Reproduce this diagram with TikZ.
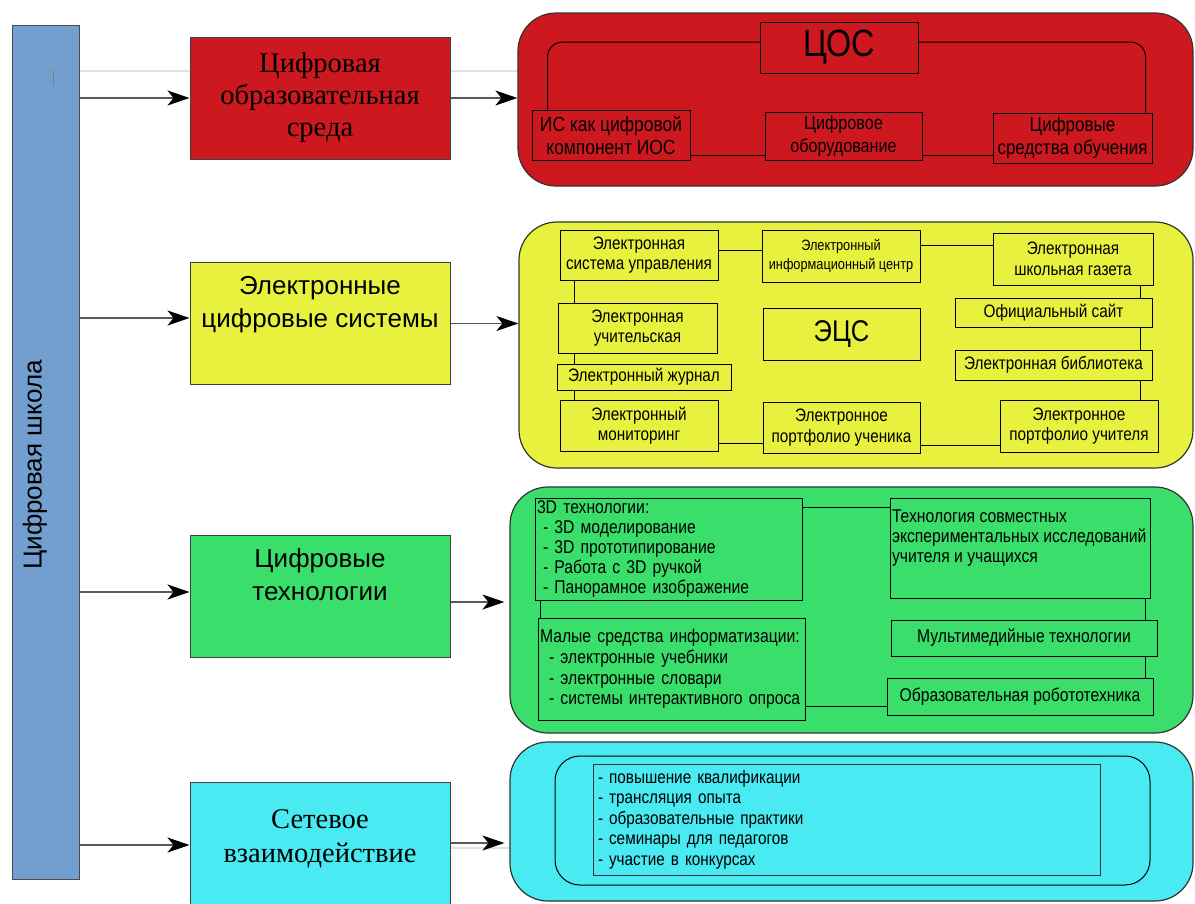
\documentclass[tikz,border=0pt]{standalone}
\usepackage{fontspec}
\setmainfont{Liberation Serif}
\setsansfont{Liberation Sans}
\newfontfamily\narrow[FakeStretch=0.85]{Liberation Sans}
\usetikzlibrary{arrows.meta}
\newcommand\myfs[2]{\fontsize{#1}{#2}\selectfont}
\definecolor{barblue}{RGB}{114,159,207}
\definecolor{cred}{RGB}{204,24,30}
\definecolor{cyel}{RGB}{232,242,62}
\definecolor{cgrn}{RGB}{58,222,106}
\definecolor{ccyn}{RGB}{74,234,242}
\definecolor{markbrown}{RGB}{150,120,90}
\begin{document}
\begin{tikzpicture}[x=1pt,y=-1pt,
  mid/.style={draw=black!75, line width=1pt, minimum width=260pt, minimum height=122pt, align=center, inner sep=0pt},
  panel/.style={draw=black!80, line width=1.2pt, rounded corners=38pt, inner sep=0pt},
  ib/.style={draw=black, line width=1pt, inner sep=0pt, align=center, font=\narrow\myfs{18}{20.5}},
  conn/.style={draw=black, line width=1pt},
  arr/.style={draw=black!65, line width=1.5pt, -{Stealth[length=22pt,width=15pt,inset=6pt,black]}},
  faint/.style={draw=black!12, line width=1.5pt}]
\useasboundingbox (0,0) rectangle (1195,903);
\fill[white] (0,0) rectangle (1195,903);

% faint lines
\draw[faint] (79,71) -- (190,71);
\draw[faint] (450,71) -- (518,71);
\draw[faint] (450,848) -- (511,848);

% left bar
\node[draw=black!70, line width=1pt, fill=barblue, minimum width=67pt, minimum height=854pt, inner sep=0pt] (bar) at (45.5,452) {};
\node[rotate=90, font=\sffamily\myfs{26}{30}] (barlab) at (35,465) {Цифровая школа};
\draw[markbrown, line width=1pt] (53,70) -- (53,86);

% middle boxes
\node[mid, fill=cred, font=\myfs{28.5}{32}] (m1) at (320,98) {Цифровая\\образовательная\\среда};
\node[mid, fill=cyel, font=\sffamily\myfs{26}{33}] (m2) at (320,323.5) {Электронные\\цифровые системы\\\strut};
\node[mid, fill=cgrn, font=\sffamily\myfs{26}{33}] (m3) at (320,596) {Цифровые\\технологии\\\strut};
\node[mid, fill=ccyn, font=\myfs{28.5}{34}] (m4) at (320,843) {Сетевое\\взаимодействие\\[-20pt]\mbox{}};

% panels
\node[panel, fill=cred, minimum width=675pt, minimum height=173pt] (rp) at (855.5,99.5) {};
\node[panel, fill=cyel, minimum width=674pt, minimum height=246pt] (yp) at (856,345) {};
\node[panel, fill=cgrn, minimum width=683pt, minimum height=246pt] (gp) at (851.5,610) {};
\node[panel, fill=ccyn, minimum width=683pt, minimum height=159pt] (cp) at (851.5,821.5) {};

% arrows
\draw[arr] (bar.east |- m1.west) -- (m1.west);
\draw[arr] (m1.east) -- (m1.east -| rp.west);
\draw[arr] ([yshift=5.5pt]m2.west -| bar.east) -- ([yshift=5.5pt]m2.west);
\draw[arr] (m2.east) -- (m2.east -| yp.west);
\draw[arr] ([yshift=4pt]m3.west -| bar.east) -- ([yshift=4pt]m3.west);
\draw[arr, shorten >=5pt] ([yshift=-6pt]m3.east) -- ([yshift=-6pt]m3.east -| gp.west);
\draw[arr] ([yshift=-2pt]m4.west -| bar.east) -- ([yshift=-2pt]m4.west);
\draw[arr, shorten >=5pt] (m4.east) -- (m4.east -| cp.west);

% red panel content
\node[ib, fill=cred, minimum width=158pt, minimum height=51pt, font=\narrow\myfs{38}{40}] (cos) at (839,47.5) {ЦОС};
\node[ib, fill=cred, minimum width=158pt, minimum height=50pt, font=\narrow\myfs{20.5}{23}] (is) at (611,135) {ИС как цифровой\\компонент ИОС};
\node[ib, fill=cred, minimum width=157pt, minimum height=48pt, font=\narrow\myfs{19}{23}] (co) at (843.5,136) {Цифровое\\оборудование};
\node[ib, fill=cred, minimum width=159pt, minimum height=50pt, font=\narrow\myfs{20}{23}] (cso) at (1072.5,138) {Цифровые\\средства обучения};
\draw[conn, rounded corners=15pt] ([yshift=5.5pt]cos.west) -| ([xshift=16pt]is.north west);
\draw[conn, rounded corners=15pt] ([yshift=5.5pt]cos.east) -| ([xshift=-7pt]cso.north east);
\draw[conn] ([yshift=-20pt]is.east) -- ([yshift=-20pt]is.east -| co.west);
\draw[conn] ([yshift=-19pt]co.east) -- ([yshift=-19pt]co.east -| cso.west);

% yellow panel content
\node[ib, fill=cyel, minimum width=158pt, minimum height=50pt] (esu) at (639,255) {Электронная\\система управления};
\node[ib, fill=cyel, minimum width=158pt, minimum height=52pt, font=\narrow\myfs{15}{19}] (eic) at (841,256) {Электронный\\информационный центр};
\node[ib, fill=cyel, minimum width=160pt, minimum height=52pt] (eshg) at (1073,259) {Электронная\\школьная газета};
\node[ib, fill=cyel, minimum width=159pt, minimum height=50pt] (eu) at (637.5,328) {Электронная\\учительская};
\node[ib, fill=cyel, minimum width=157pt, minimum height=52pt, font=\narrow\myfs{30}{32}] (ecs) at (841.5,334) {ЭЦС};
\node[ib, fill=cyel, minimum width=197pt, minimum height=29pt] (os) at (1053.5,312.5) {Официальный сайт};
\node[ib, fill=cyel, minimum width=197pt, minimum height=30pt] (eb) at (1053.5,365) {Электронная библиотека};
\node[ib, fill=cyel, minimum width=174pt, minimum height=26pt] (ezh) at (644,377) {Электронный журнал};
\node[ib, fill=cyel, minimum width=158pt, minimum height=51pt] (em) at (639,425.5) {Электронный\\мониторинг};
\node[ib, fill=cyel, minimum width=157pt, minimum height=51pt] (epuch) at (841.5,427.5) {Электронное\\портфолио ученика};
\node[ib, fill=cyel, minimum width=158pt, minimum height=52pt] (eput) at (1079,426) {Электронное\\портфолио учителя};
\draw[conn] ([yshift=5pt]esu.east) -- ([yshift=5pt]esu.east -| eic.west);
\draw[conn] ([yshift=11pt]eic.east) -- ([yshift=11pt]eic.east -| eshg.west);
\draw[conn] ([xshift=15pt]esu.south west) -- ([xshift=15pt]esu.south west |- eu.north);
\draw[conn] ([xshift=17pt]eu.south west) -- ([xshift=17pt]eu.south west |- ezh.north);
\draw[conn] ([xshift=18pt]ezh.south west) -- ([xshift=18pt]ezh.south west |- em.north);
\draw[conn] ([yshift=-17.5pt]em.east) -- ([yshift=-17.5pt]em.east -| epuch.west);
\draw[conn] ([yshift=-17.5pt]epuch.east) -- ([yshift=-17.5pt]epuch.east -| eput.west);
\draw[conn] ([xshift=-13pt]eshg.south east) -- ([xshift=-13pt]eshg.south east |- os.north);
\draw[conn] ([xshift=-12pt]os.south east) -- ([xshift=-12pt]os.south east |- eb.north);
\draw[conn] ([xshift=-12pt]eb.south east) -- ([xshift=-12pt]eb.south east |- eput.north);

% green panel content
\node[ib, fill=cgrn, minimum width=267pt, minimum height=102pt, align=left, text width=263pt, font=\narrow\myfs{18.5}{20}] (d3) at (668.5,549)
 {3D технологии:\\\hspace*{6pt}- 3D моделирование\\\hspace*{6pt}- 3D прототипирование\\\hspace*{6pt}- Работа с 3D ручкой\\\hspace*{6pt}- Панорамное изображение};
\node[ib, fill=cgrn, minimum width=260pt, minimum height=100pt, font=\narrow\myfs{18.5}{20}] (tsei) at (1020,548)
 {\begin{minipage}[c][100pt][t]{256pt}\raggedright\vspace*{12pt}Технология совместных\\экспериментальных исследований\\учителя и учащихся\end{minipage}};
\node[ib, fill=cgrn, minimum width=267pt, minimum height=102pt, align=left, text width=263pt, font=\narrow\myfs{18.5}{20.7}] (msi) at (671.5,669)
 {Малые средства информатизации:\\\hspace*{9pt}- электронные учебники\\\hspace*{9pt}- электронные словари\\\hspace*{9pt}- системы интерактивного опроса};
\node[ib, fill=cgrn, minimum width=266pt, minimum height=36pt, font=\narrow\myfs{18.5}{20}] (mt) at (1024,638) {Мультимедийные технологии};
\node[ib, fill=cgrn, minimum width=266pt, minimum height=37pt, font=\narrow\myfs{18.5}{20}] (rob) at (1020,696.5) {Образовательная робототехника};
\draw[conn] ([yshift=42pt]d3.east) -- ([yshift=42pt]d3.east -| tsei.west);
\draw[conn] ([xshift=6pt]d3.south west) -- ([xshift=6pt]d3.south west |- msi.north);
\draw[conn] ([yshift=-37pt]msi.east) -- ([yshift=-37pt]msi.east -| rob.west);
\draw[conn] ([xshift=-5pt]tsei.south east) -- ([xshift=-5pt]tsei.south east |- mt.north);
\draw[conn] ([xshift=-12pt]mt.south east) -- ([xshift=-12pt]mt.south east |- rob.north);

% cyan panel content
\node[draw=black, line width=1pt, fill=ccyn, rounded corners=25pt, minimum width=595pt, minimum height=129pt, inner sep=0pt] (cin) at (852.5,820.5) {};
\node[ib, draw=black!80, fill=ccyn, minimum width=507pt, minimum height=111pt, align=left, text width=497pt, font=\narrow\myfs{18}{20.5}] (clist) at (846.5,819.5)
 {- повышение квалификации\\- трансляция опыта\\- образовательные практики\\- семинары для педагогов\\- участие в конкурсах};
\end{tikzpicture}
\end{document}
